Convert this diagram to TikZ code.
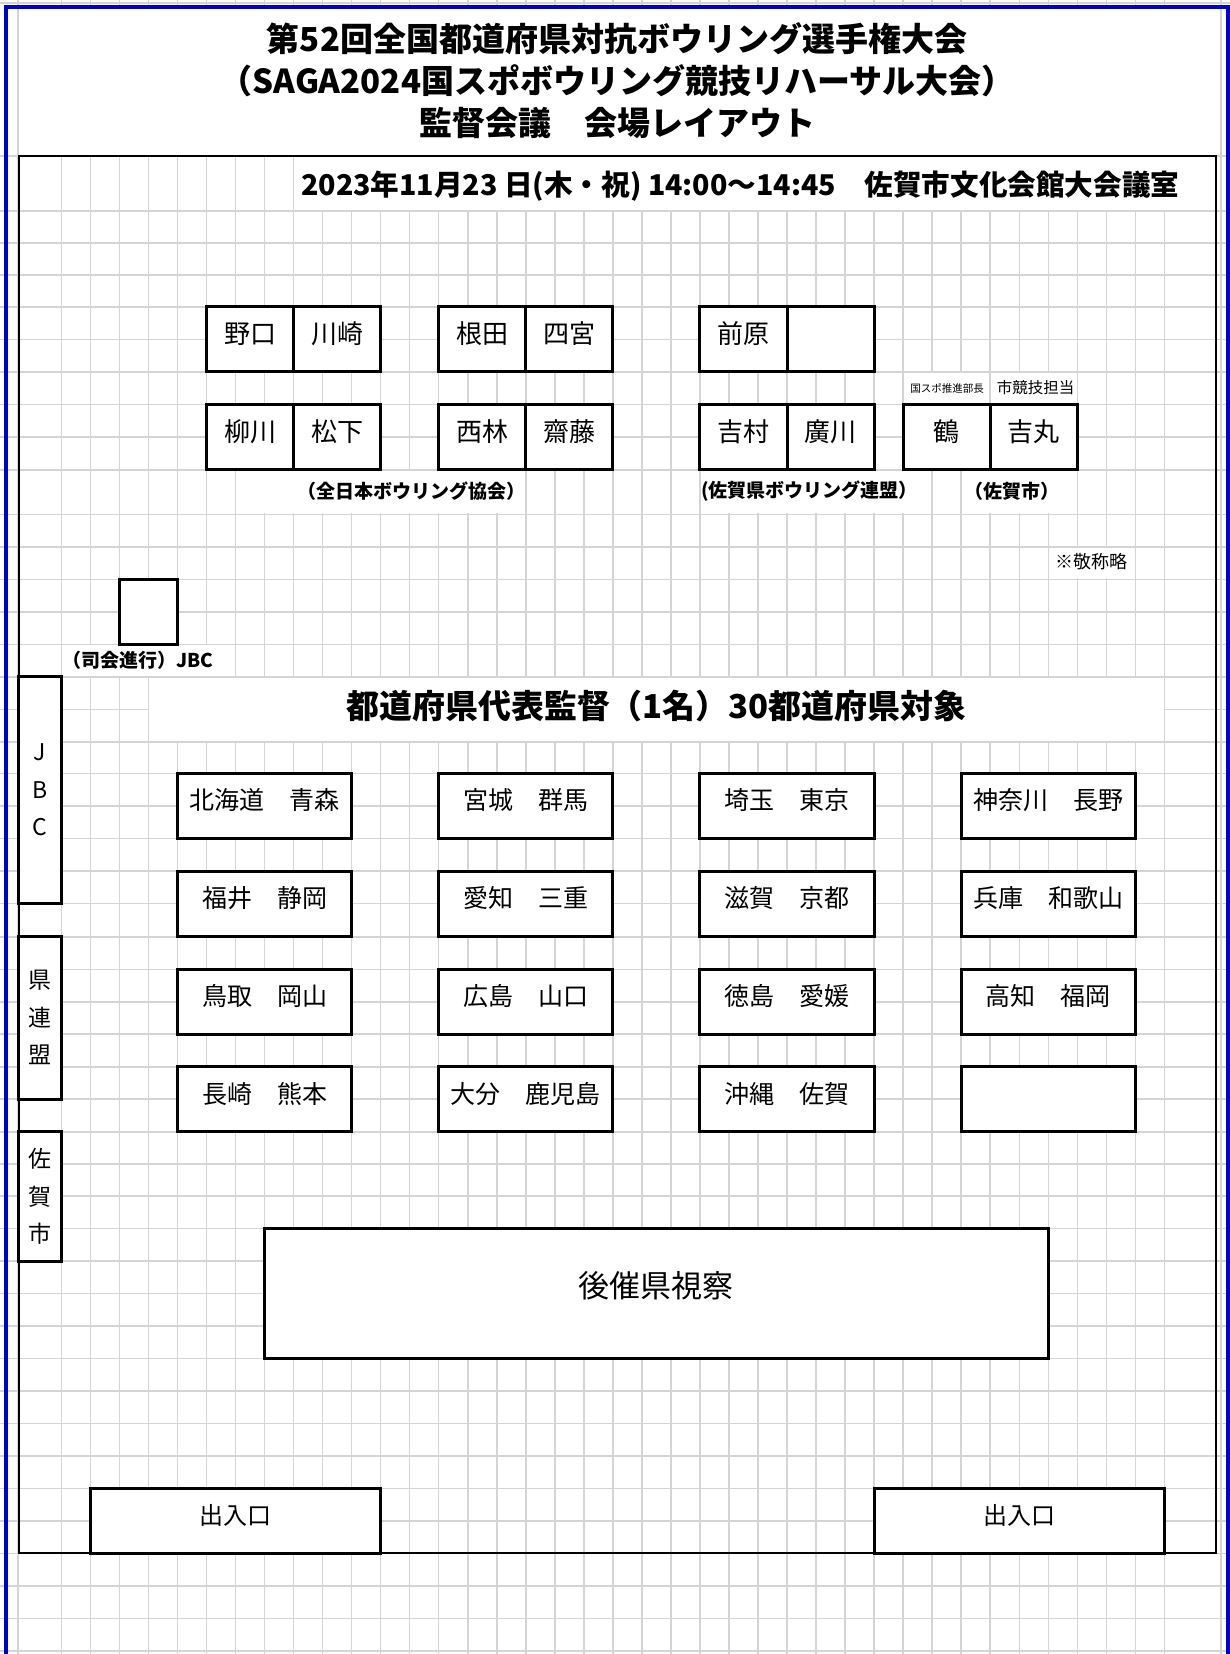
\documentclass[tikz,border=0pt]{standalone}
\usepackage{fontspec}
\usepackage{graphicx}
\setmainfont{Noto Sans CJK JP}
\definecolor{gridgray}{RGB}{212,212,212}
\definecolor{pageblue}{RGB}{0,0,204}
\begin{document}
\begin{tikzpicture}[x=1pt,y=-1pt,
  gridline/.style={draw=gridgray,line width=1.6pt},
  boxbase/.style={draw=black,line width=3pt,fill=white,inner sep=0pt},
  liftedtext/.style={text height=0.9em,text depth=0.116em},
  seat/.style={boxbase,liftedtext,minimum width=87.09pt,minimum height=65.3pt,font=\fontsize{26}{30}\selectfont},
  pref/.style={boxbase,liftedtext,minimum width=174.18pt,minimum height=65.3pt,font=\fontsize{25}{30}\selectfont},
  sidebox/.style={boxbase,minimum width=43.3pt,align=center,font=\fontsize{23}{37.5}\selectfont},
  doorbox/.style={boxbase,liftedtext,minimum width=290.3pt,minimum height=65pt,font=\fontsize{24}{28}\selectfont},
  titletext/.style={inner sep=0pt,font=\bfseries\fontsize{33}{36}\selectfont},
  grouplabel/.style={inner sep=0pt,font=\bfseries\fontsize{19}{22}\selectfont},
  notetext/.style={inner sep=0pt,font=\fontsize{18}{20}\selectfont}
]
\useasboundingbox (0,0) rectangle (1230,1654);
\fill[white] (0,0) rectangle (1230,1654);
% spreadsheet grid
\foreach \x in {18,1221} \draw[gridline] (\x,0) -- (\x,1654);
\foreach \k in {0,...,38} \draw[gridline] ({61.3+29.03*\k},0) -- ({61.3+29.03*\k},1654);
\foreach \y in {3,156,211,242.7,275,306.7,339.3,371.7,404.3,436.7,470,514.3,546.7,579.3,611.7,644.3,676.7,709.3,741.7,773.3,806,838.3,870.7,903.3,936.7,969.3,1001.7,1034,1066.7,1099,1131.7,1164,1196,1228.3,1261,1293.3,1325.7,1358.3,1390.7,1423.3,1456,1488.3,1520.7,1553.3,1586,1618.3,1650.7}
  \draw[gridline] (0,\y) -- (1230,\y);
% merged (white) cells
\fill[white] (19,8) rectangle (1220.2,155);
\fill[white] (294.4,157) rectangle (1215,210);
\fill[white] (149.3,677.6) rectangle (1163.6,740.8);
\fill[white] (237.2,470.9) rectangle (524.9,513.4);
\fill[white] (700.9,470.9) rectangle (931.3,513.4);
\fill[white] (962.1,470.9) rectangle (1076.5,513.4);
\fill[white] (1049.2,547.6) rectangle (1134.5,578.4);
\fill[white] (62.2,645.2) rectangle (234.6,675.8);
\fill[white] (904.1,372.6) rectangle (989.4,403.4);
\fill[white] (991.2,372.6) rectangle (1076.5,403.4);
% room border
\draw[line width=2pt] (19,156) rectangle (1216,1553.3);
% page break lines
\draw[pageblue,line width=3.5pt] (6,1654) -- (6,7) -- (1228,7) -- (1228,1654);
% title
\node[titletext] (t1) at (617,39) {第52回全国都道府県対抗ボウリング選手権大会};
\node[titletext] (t2) at (617,81) {（SAGA2024国スポボウリング競技リハーサル大会）};
\node[titletext] (t3) at (617,123) {監督会議　会場レイアウト};
\node[inner sep=0pt,anchor=west] (date) at (301,186) {\resizebox{878pt}{!}{\bfseries 2023年11月23 日(木・祝) 14:00～14:45　佐賀市文化会館大会議室}};
% officials
\node[seat] (noguchi) at (250,339.2) {野口};
\node[seat] (kawasaki) at (337.1,339.2) {川崎};
\node[seat] (neda) at (482.2,339.2) {根田};
\node[seat] (shinomiya) at (569.3,339.2) {四宮};
\node[seat] (maehara) at (743.5,339.2) {前原};
\node[seat] (blankseat) at (830.6,339.2) {};
\node[seat] (yanagawa) at (250,437.2) {柳川};
\node[seat] (matsushita) at (337.1,437.2) {松下};
\node[seat] (nishibayashi) at (482.2,437.2) {西林};
\node[seat] (saito) at (569.3,437.2) {齋藤};
\node[seat] (yoshimura) at (743.5,437.2) {吉村};
\node[seat] (hirokawa) at (830.6,437.2) {廣川};
\node[seat] (tsuru) at (946.7,437.2) {鶴};
\node[seat] (yoshimaru) at (1033.8,437.2) {吉丸};
\node[inner sep=0pt,font=\fontsize{10.5}{12}\selectfont] (kokuspo) at (947,388) {国スポ推進部長};
\node[inner sep=0pt,font=\fontsize{15.5}{18}\selectfont] (shikyogi) at (1035.5,388) {市競技担当};
\node[grouplabel] (lbljbc) at (411,491) {（全日本ボウリング協会）};
\node[grouplabel,anchor=west] (lblsaga) at (701,491) {(佐賀県ボウリング連盟）};
\node[grouplabel] (lblcity) at (1012,491) {（佐賀市）};
\node[notetext] (keisho) at (1091.5,562) {※敬称略};
% MC
\node[boxbase,minimum width=58.06pt,minimum height=65pt] (mcbox) at (148.4,611.8) {};
\node[grouplabel,anchor=west] (mclabel) at (62,660) {（司会進行）JBC};
% band heading
\node[inner sep=0pt] (band) at (656.5,706) {\resizebox{620pt}{!}{\bfseries 都道府県代表監督（1名）30都道府県対象}};
% side boxes
\node[sidebox,minimum height=226.6pt] (jbcbox) at (39.65,790) {J\\B\\C};
\node[sidebox,minimum height=162.3pt] (kenrenbox) at (39.65,1017.85) {県\\連\\盟};
\node[sidebox,minimum height=129.3pt] (sagacitybox) at (39.65,1196.35) {佐\\賀\\市};
% prefecture tables
\node[pref] (p11) at (264.5,805.8) {北海道　青森};
\node[pref] (p12) at (525.8,805.8) {宮城　群馬};
\node[pref] (p13) at (787.05,805.8) {埼玉　東京};
\node[pref] (p14) at (1048.3,805.8) {神奈川　長野};
\node[pref] (p21) at (264.5,903.7) {福井　静岡};
\node[pref] (p22) at (525.8,903.7) {愛知　三重};
\node[pref] (p23) at (787.05,903.7) {滋賀　京都};
\node[pref] (p24) at (1048.3,903.7) {兵庫　和歌山};
\node[pref] (p31) at (264.5,1001.65) {鳥取　岡山};
\node[pref] (p32) at (525.8,1001.65) {広島　山口};
\node[pref] (p33) at (787.05,1001.65) {徳島　愛媛};
\node[pref] (p34) at (1048.3,1001.65) {高知　福岡};
\node[pref] (p41) at (264.5,1099.2) {長崎　熊本};
\node[pref] (p42) at (525.8,1099.2) {大分　鹿児島};
\node[pref] (p43) at (787.05,1099.2) {沖縄　佐賀};
\node[pref] (p44) at (1048.3,1099.2) {};
% observers
\node[boxbase,liftedtext,minimum width=783.8pt,minimum height=130pt,font=\fontsize{31}{34}\selectfont] (observers) at (656.4,1293.3) {後催県視察};
% entrances
\node[doorbox] (doorleft) at (235.5,1520.8) {出入口};
\node[doorbox] (doorright) at (1019.3,1520.8) {出入口};
\end{tikzpicture}
\end{document}
